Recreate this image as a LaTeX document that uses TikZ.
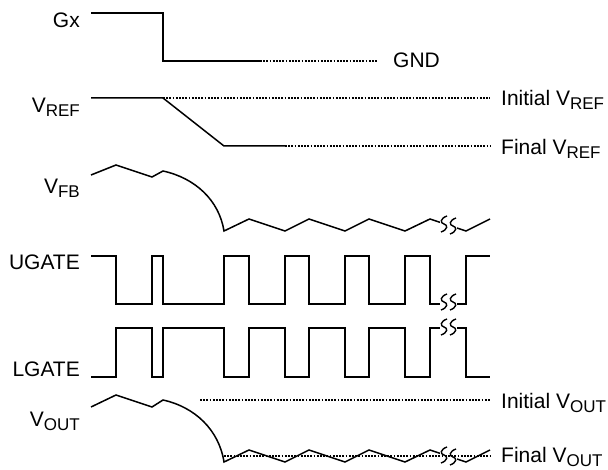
\documentclass[tikz,border=0pt]{standalone}
\usepackage{fontspec}
\setmainfont{Liberation Sans}
\usetikzlibrary{positioning}

\newcommand{\lowsub}[1]{\raisebox{-4pt}{\fontsize{17}{19}\selectfont #1}}

\tikzset{
  wave/.style={line width=1.5pt, line join=miter},
  level/.style={line width=2pt, dash pattern=on 1.8pt off 1.4pt},
  siglabel/.style={font=\fontsize{21}{25}\selectfont, inner sep=0pt},
  brk/.pic={\draw[line width=1.4pt] (3,-8) .. controls (-4,-5.5) and (-4,-1) .. (0,0) .. controls (4,1) and (4,5.5) .. (-3,8);}
}

\begin{document}
\begin{tikzpicture}[x=1pt,y=-1pt]
\useasboundingbox (0,0) rectangle (608,470);

\node[siglabel, anchor=base east] (gx) at (80,28) {Gx};
\node[siglabel, anchor=base east] (vref) at (80,113) {V\lowsub{REF}};
\node[siglabel, anchor=base east] (vfb) at (80,194) {V\lowsub{FB}};
\node[siglabel, anchor=base east] (ugate) at (80,270) {UGATE};
\node[siglabel, anchor=base east] (lgate) at (80,377) {LGATE};
\node[siglabel, anchor=base east] (vout) at (80,426) {V\lowsub{OUT}};

\node[siglabel, anchor=base west] (gnd) at (393,68) {GND};
\node[siglabel, anchor=base west] (ivref) at (501,106) {Initial V\lowsub{REF}};
\node[siglabel, anchor=base west] (fvref) at (501,155) {Final V\lowsub{REF}};
\node[siglabel, anchor=base west] (ivout) at (501,408) {Initial V\lowsub{OUT}};
\node[siglabel, anchor=base west] (fvout) at (501,462) {Final V\lowsub{OUT}};

% Gx
\draw[wave] (91,13) -- (163,13) -- (163,61) -- (260,61);
\draw[level] (260,61) -- (378,61);

% VREF
\draw[wave] (91,98) -- (163,98) -- (224,146) -- (285,146);
\draw[level] (163,98) -- (490,98);
\draw[level] (285,146) -- (490,146);

% VFB
\draw[wave] (91,175) -- (116,165) -- (152,177) -- (163,171)
  .. controls (195,178) and (219,200) .. (224,231)
  -- (249,219) -- (285,231) -- (309,219) -- (345,231) -- (369,219)
  -- (405,231) -- (430,219) -- (440,222.3);
\draw[wave] (457,228) -- (466,231) -- (490,219);
\pic at (444,224) {brk};
\pic at (453,226) {brk};

% UGATE
\draw[wave] (91,256) -- (116,256) -- (116,304) -- (152,304) -- (152,256)
  -- (163,256) -- (163,304) -- (224,304) -- (224,256) -- (249,256)
  -- (249,304) -- (285,304) -- (285,256) -- (309,256) -- (309,304)
  -- (345,304) -- (345,256) -- (369,256) -- (369,304) -- (405,304)
  -- (405,256) -- (430,256) -- (430,304) -- (440,304);
\draw[wave] (457,304) -- (466,304) -- (466,256) -- (490,256);
\pic at (444,302) {brk};
\pic at (453,302) {brk};

% LGATE
\draw[wave] (91,377) -- (116,377) -- (116,328) -- (152,328) -- (152,377)
  -- (163,377) -- (163,328) -- (224,328) -- (224,377) -- (249,377)
  -- (249,328) -- (285,328) -- (285,377) -- (309,377) -- (309,328)
  -- (345,328) -- (345,377) -- (369,377) -- (369,328) -- (405,328)
  -- (405,377) -- (430,377) -- (430,328) -- (440,328);
\draw[wave] (457,328) -- (466,328) -- (466,377) -- (490,377);
\pic at (444,327) {brk};
\pic at (453,327) {brk};

% VOUT
\draw[level] (200,400) -- (490,400);
\draw[level] (224,456) -- (490,456);
\draw[wave] (91,407) -- (116,395) -- (152,407) -- (163,400)
  .. controls (195,407) and (219,430) .. (224,462)
  -- (249,450) -- (285,462) -- (309,450) -- (345,462) -- (369,450)
  -- (405,462) -- (430,450) -- (440,453.3);
\draw[wave] (457,459) -- (466,462) -- (490,450);
\pic at (444,455) {brk};
\pic at (453,457) {brk};
\end{tikzpicture}
\end{document}
